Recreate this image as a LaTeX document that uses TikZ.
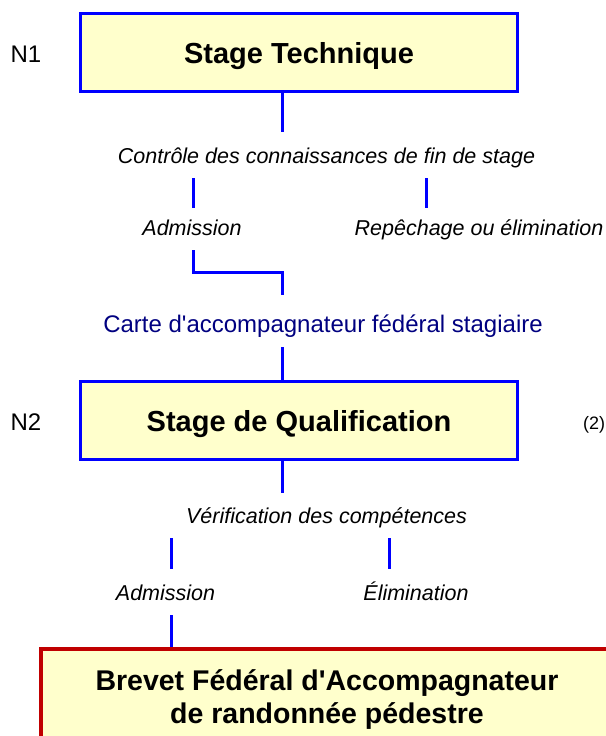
\documentclass[tikz,border=0pt]{standalone}
\usepackage{fontspec}
\setmainfont{Liberation Sans}
\usetikzlibrary{positioning}
\definecolor{paleyellow}{HTML}{FFFFCC}
\definecolor{linkblue}{HTML}{0000FF}
\definecolor{boxred}{HTML}{C00000}
\definecolor{cardnavy}{HTML}{000080}

\begin{document}
\begin{tikzpicture}[x=1pt,y=-1pt,
  box/.style={draw=linkblue,line width=3pt,fill=paleyellow,minimum width=437pt,
    minimum height=78pt,inner sep=0pt,text height=21.5pt,text depth=0pt,
    font=\fontsize{29}{34}\selectfont\bfseries},
  lab/.style={inner xsep=0pt,inner ysep=8pt,text depth=7pt,anchor=base,
    font=\fontsize{21.5}{26}\selectfont\itshape},
  level/.style={inner sep=0pt,font=\fontsize{24}{28}\selectfont},
  link/.style={draw=linkblue,line width=3pt}]
  \useasboundingbox (0,0) rectangle (605,736);
  % where the connectors run
  \coordinate (stem) at (282,0);
  \coordinate (forkA) at (193,0);
  \coordinate (forkB) at (426,0);
  \coordinate (forkC) at (171,0);
  \coordinate (forkD) at (389,0);
  % the stages
  \node[box] (st) at (299,52.5) {Stage Technique};
  \node[level,left=37.5pt of st,yshift=-2pt] (n1) {N1};
  \node[lab,text height=23pt] (ctrl) at (326.5,163) {Contrôle des connaissances de fin de stage};
  \node[lab,text height=19pt] (adm1) at (192,235) {Admission};
  \node[lab,text height=19pt] (rep) at (479,235) {Repêchage ou élimination};
  \node[lab,text height=29pt,text=cardnavy,font=\fontsize{24}{28}\selectfont] (card) at (323,332)
    {Carte d\textquotesingle accompagnateur fédéral stagiaire};
  \node[box] (sq) at (299,420.75) {Stage de Qualification};
  \node[level,left=37.5pt of sq,yshift=-1pt] (n2) {N2};
  \node[inner sep=0pt,anchor=base west,font=\fontsize{18}{21}\selectfont] (note) at (583,429) {(2)};
  \node[lab,text height=22pt] (verif) at (326.5,523) {Vérification des compétences};
  \node[lab,text height=23pt] (adm2) at (165.5,600) {Admission};
  \node[lab,text height=23pt] (elim) at (416,600) {Élimination};
  % the edges
  \draw[link] (st.south -| stem) -- (ctrl.north -| stem);
  \draw[link] (ctrl.south -| forkA) -- (adm1.north -| forkA);
  \draw[link] (ctrl.south -| forkB) -- (rep.north -| forkB);
  \draw[link] (adm1.south -| forkA) -- ++(0,22) -| (card.north -| stem);
  \draw[link] (card.south -| stem) -- (sq.north -| stem);
  \draw[link] (sq.south -| stem) -- (verif.north -| stem);
  \draw[link] (verif.south -| forkC) -- (adm2.north -| forkC);
  \draw[link] (verif.south -| forkD) -- (elim.north -| forkD);
  \draw[link] (adm2.south -| forkC) -- ++(0,34);
  % the diploma
  \node[draw=boxred,line width=4pt,fill=paleyellow,anchor=north,minimum width=572pt,
    inner ysep=20.5pt,align=center,font=\fontsize{28.5}{33}\selectfont\bfseries] (bf) at (327,647)
    {Brevet Fédéral d\textquotesingle Accompagnateur\\de randonnée pédestre};
\end{tikzpicture}
\end{document}
